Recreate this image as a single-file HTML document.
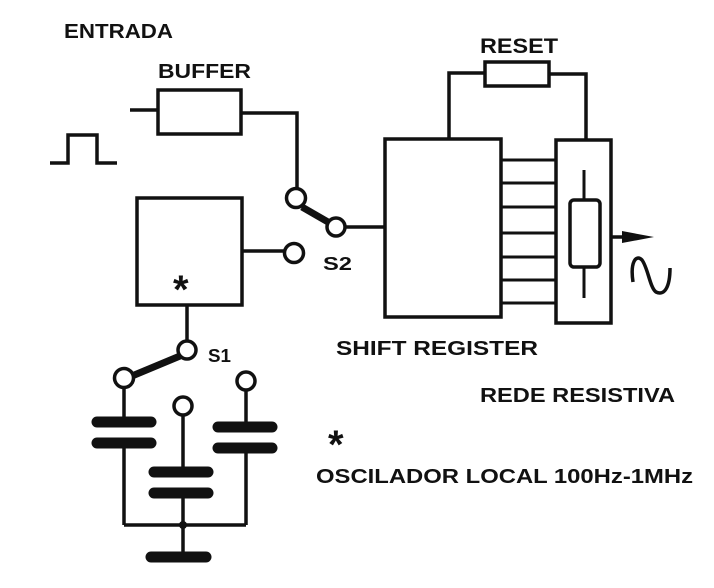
<!DOCTYPE html>
<html><head><meta charset="utf-8"><style>html,body{margin:0;padding:0;background:#fff}svg{display:block}</style></head>
<body>
<svg width="714" height="588" viewBox="0 0 714 588" xmlns="http://www.w3.org/2000/svg">
<rect width="714" height="588" fill="#fff"/>
<g font-family="Liberation Sans, sans-serif" font-weight="bold" fill="#111">
<text x="64" y="38" font-size="20" textLength="109" lengthAdjust="spacingAndGlyphs">ENTRADA</text>
<text x="158" y="78" font-size="20" textLength="93" lengthAdjust="spacingAndGlyphs">BUFFER</text>
<text x="480" y="53" font-size="21" textLength="78" lengthAdjust="spacingAndGlyphs">RESET</text>
<text x="323" y="270" font-size="18" textLength="29" lengthAdjust="spacingAndGlyphs">S2</text>
<text x="208" y="362" font-size="18" textLength="23" lengthAdjust="spacingAndGlyphs">S1</text>
<text x="336" y="355" font-size="20" textLength="202" lengthAdjust="spacingAndGlyphs">SHIFT REGISTER</text>
<text x="480" y="402" font-size="20" textLength="195" lengthAdjust="spacingAndGlyphs">REDE RESISTIVA</text>
<text x="316" y="483" font-size="20" textLength="377" lengthAdjust="spacingAndGlyphs">OSCILADOR LOCAL  100Hz-1MHz</text>
<text x="328" y="458" font-size="40">*</text>
<text x="173" y="303" font-size="40">*</text>
</g>
<g fill="none" stroke="#111" stroke-width="3.5" stroke-linejoin="miter">
<polyline points="50,163 68,163 68,135 97,135 97,163 117,163"/>
<rect x="158" y="90" width="83" height="44"/>
<line x1="130" y1="110" x2="158" y2="110"/>
<polyline points="241,113 297,113 297,188"/>
<circle cx="296" cy="198" r="9.5"/>
<circle cx="336" cy="227" r="9"/>
<circle cx="294" cy="253" r="9.5"/>
<line x1="302" y1="207" x2="328" y2="222" stroke-width="7"/>
<line x1="345" y1="227" x2="385" y2="227"/>
<rect x="137" y="198" width="105" height="107"/>
<line x1="242" y1="251" x2="284" y2="251"/>
<line x1="187" y1="305" x2="187" y2="341"/>
<rect x="385" y="139" width="116" height="178"/>
<rect x="556" y="140" width="55" height="183"/>
<g stroke-width="3">
<line x1="501" y1="160" x2="556" y2="160"/>
<line x1="501" y1="183" x2="556" y2="183"/>
<line x1="501" y1="207" x2="556" y2="207"/>
<line x1="501" y1="233" x2="556" y2="233"/>
<line x1="501" y1="257" x2="556" y2="257"/>
<line x1="501" y1="280" x2="556" y2="280"/>
<line x1="501" y1="303" x2="556" y2="303"/>
</g>
<line x1="584" y1="170" x2="584" y2="298" stroke-width="3"/>
<rect x="570" y="200" width="30" height="67" rx="4" fill="#fff"/>
<line x1="611" y1="237" x2="626" y2="237"/>
<rect x="485" y="62" width="64" height="24"/>
<polyline points="449,139 449,73 485,73"/>
<polyline points="549,74 586,74 586,140"/>
<path d="M633,282 C630,262 636,254 642,260 C648,268 650,288 656,292 C664,296 670,288 670,268"/>
<circle cx="187" cy="350" r="9"/>
<circle cx="124" cy="378" r="9.5"/>
<circle cx="246" cy="381" r="9"/>
<circle cx="183" cy="406" r="9"/>
<line x1="132" y1="376" x2="180" y2="356" stroke-width="7"/>
<line x1="124" y1="388" x2="124" y2="422"/>
<line x1="124" y1="443" x2="124" y2="525"/>
<line x1="246" y1="390" x2="246" y2="427"/>
<line x1="246" y1="448" x2="246" y2="525"/>
<line x1="183" y1="415" x2="183" y2="472"/>
<line x1="183" y1="493" x2="183" y2="557"/>
<line x1="124" y1="525" x2="246" y2="525"/>
</g>
<g stroke="#111" stroke-width="11" stroke-linecap="round">
<line x1="97" y1="422" x2="151" y2="422"/>
<line x1="97" y1="443" x2="151" y2="443"/>
<line x1="218" y1="427" x2="272" y2="427"/>
<line x1="218" y1="448" x2="272" y2="448"/>
<line x1="154" y1="472" x2="208" y2="472"/>
<line x1="154" y1="493" x2="208" y2="493"/>
<line x1="151" y1="557" x2="206" y2="557"/>
</g>
<circle cx="183" cy="525" r="4" fill="#111"/>
<polygon points="622,231 654,237 622,243" fill="#111"/>
</svg>
</body></html>
